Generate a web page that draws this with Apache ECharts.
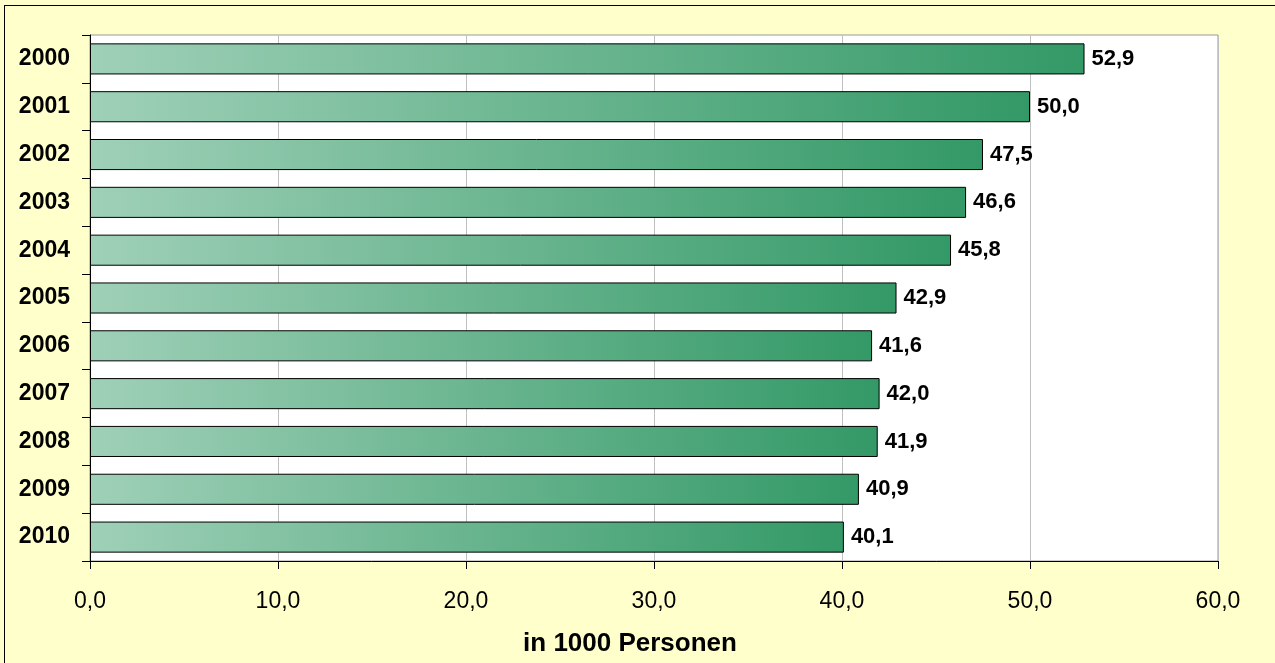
<!DOCTYPE html>
<html>
<head>
<meta charset="utf-8">
<script src="https://cdn.jsdelivr.net/npm/echarts@6/dist/echarts.min.js"></script>
<style>
  html, body { margin: 0; padding: 0; background: #ffffcc; overflow: hidden; }
  #frame { position: absolute; left: 4px; top: 5px; width: 1300px; height: 700px; border: 1px solid #000; box-sizing: border-box; }
  #chart { position: absolute; left: 0; top: 0; width: 1275px; height: 663px; }
</style>
</head>
<body>
<div id="frame"></div>
<div id="chart"></div>
<script>
const years = ['2000', '2001', '2002', '2003', '2004', '2005', '2006', '2007', '2008', '2009', '2010'];
const values = [52.9, 50.0, 47.5, 46.6, 45.8, 42.9, 41.6, 42.0, 41.9, 40.9, 40.1];
const xTicks = [0, 10, 20, 30, 40, 50, 60];

const fmt = v => v.toFixed(1).replace('.', ',');
const font = 'Liberation Sans, Arial, sans-serif';

const chart = echarts.init(document.getElementById('chart'));
chart.setOption({
  animation: false,
  grid: {
    left: 90,
    right: 57,
    top: 35,
    bottom: 102,
    show: true,
    backgroundColor: '#ffffff',
    borderColor: '#999999',
    borderWidth: 1,
  },
  xAxis: {
    type: 'value',
    min: xTicks[0],
    max: xTicks[xTicks.length - 1],
    interval: 10,
    name: 'in 1000 Personen',
    nameLocation: 'middle',
    nameGap: 70,
    nameTextStyle: { fontFamily: font, fontSize: 26, fontWeight: 'bold', color: '#000', padding: [0, 48, 0, 0] },
    axisLine: { show: true, lineStyle: { color: '#000', width: 1 } },
    axisTick: { show: true, length: 8, lineStyle: { color: '#000' } },
    axisLabel: { formatter: fmt, fontFamily: font, fontSize: 23, color: '#000', margin: 29 },
    splitLine: { show: true, lineStyle: { color: '#c0c0c0', width: 1 } },
  },
  yAxis: {
    type: 'category',
    data: years,
    inverse: true,
    axisLine: { show: true, lineStyle: { color: '#000', width: 1 } },
    axisTick: { show: true, length: 8, lineStyle: { color: '#000' } },
    axisLabel: { fontFamily: font, fontSize: 23, fontWeight: 'bold', color: '#000', margin: 20 },
    splitLine: { show: false },
  },
  series: [{
    type: 'bar',
    data: values,
    barCategoryGap: '35%',
    itemStyle: {
      color: new echarts.graphic.LinearGradient(0, 0, 1, 0, [
        { offset: 0, color: '#9fd0b8' },
        { offset: 1, color: '#339966' },
      ]),
      borderColor: '#000',
      borderWidth: 1,
    },
    label: {
      show: true,
      position: 'right',
      distance: 7,
      formatter: p => fmt(p.value),
      fontFamily: font,
      fontSize: 22,
      fontWeight: 'bold',
      color: '#000',
    },
  }],
});
</script>
</body>
</html>
